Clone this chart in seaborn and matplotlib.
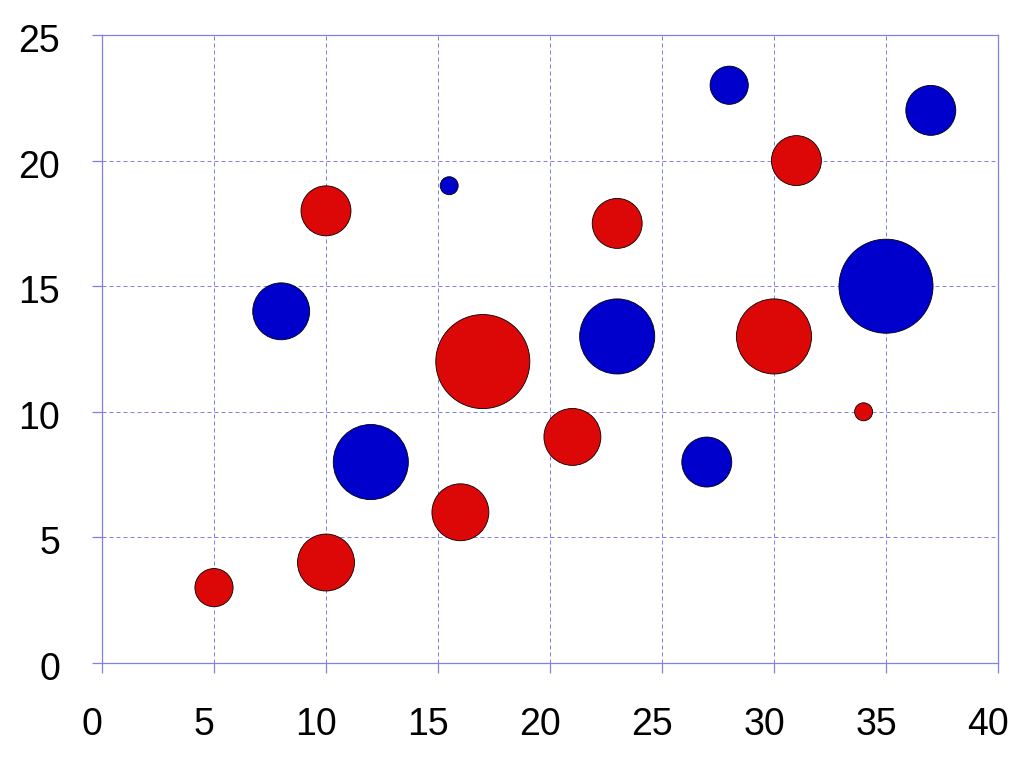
import pandas as pd
import numpy as np
import matplotlib
matplotlib.use("Agg")
import matplotlib.pyplot as plt
import matplotlib.transforms as mtransforms
import seaborn as sns

# series 1 (red bubbles)
red_x = [5, 10, 10, 16, 17, 21, 23, 30, 31, 34]
red_y = [3, 4, 18, 6, 12, 9, 17.5, 13, 20, 10]
red_z = [4.5, 10, 7.7, 10, 27.3, 10, 7.7, 17.4, 7.7, 1]

# series 2 (blue bubbles)
blue_x = [8, 12, 15.5, 23, 27, 28, 35, 37]
blue_y = [14, 8, 19, 13, 8, 23, 15, 22]
blue_z = [10, 17.4, 1, 17.4, 7.7, 4.5, 27.3, 7.7]

x_ticks = [0, 5, 10, 15, 20, 25, 30, 35, 40]
y_ticks = [0, 5, 10, 15, 20, 25]

df = pd.concat([
    pd.DataFrame({'x': red_x, 'y': red_y, 'z': red_z, 'series': 'red'}),
    pd.DataFrame({'x': blue_x, 'y': blue_y, 'z': blue_z, 'series': 'blue'}),
], ignore_index=True)

sns.set_style("white")
plt.rcParams['font.family'] = ['Liberation Sans', 'DejaVu Sans']

axis_blue = '#8080e6'
fig = plt.figure(figsize=(10.24, 7.66), dpi=100)
ax = fig.add_axes([102/1024, 1-663/766, 896/1024, 628/766])

# marker area (pt^2) is linear in z
sns.scatterplot(data=df, x='x', y='y', hue='series', size='z',
                palette={'red': '#dc0808', 'blue': '#0000cc'},
                sizes=(168, 168*27.3), size_norm=(1, 27.3),
                edgecolor='black', linewidth=0.6, alpha=1,
                legend=False, ax=ax, zorder=3)

ax.set_xlim(0, 40)
ax.set_ylim(0, 25)
ax.set_xticks(x_ticks)
ax.set_yticks(y_ticks)
ax.set_xlabel('')
ax.set_ylabel('')
ax.set_axisbelow(True)
ax.grid(True, color=axis_blue, linestyle=(0, (4, 3)), linewidth=0.72)
for sp in ax.spines.values():
    sp.set_color(axis_blue)
    sp.set_linewidth(0.9)
    sp.set_visible(True)

ax.tick_params(axis='both', direction='out', length=7, width=0.9,
               bottom=True, left=True,
               color=axis_blue, labelsize=27, labelcolor='black')
ax.tick_params(axis='x', pad=25)
ax.tick_params(axis='y', pad=23)

# x labels sit a little left of their ticks
shift = mtransforms.ScaledTranslation(-0.10, 0, fig.dpi_scale_trans)
for lab in ax.get_xticklabels():
    lab.set_transform(lab.get_transform() + shift)
shift_y = mtransforms.ScaledTranslation(0, -0.03, fig.dpi_scale_trans)
for lab in ax.get_yticklabels():
    lab.set_transform(lab.get_transform() + shift_y)

fig.savefig('out.png', dpi=100)
